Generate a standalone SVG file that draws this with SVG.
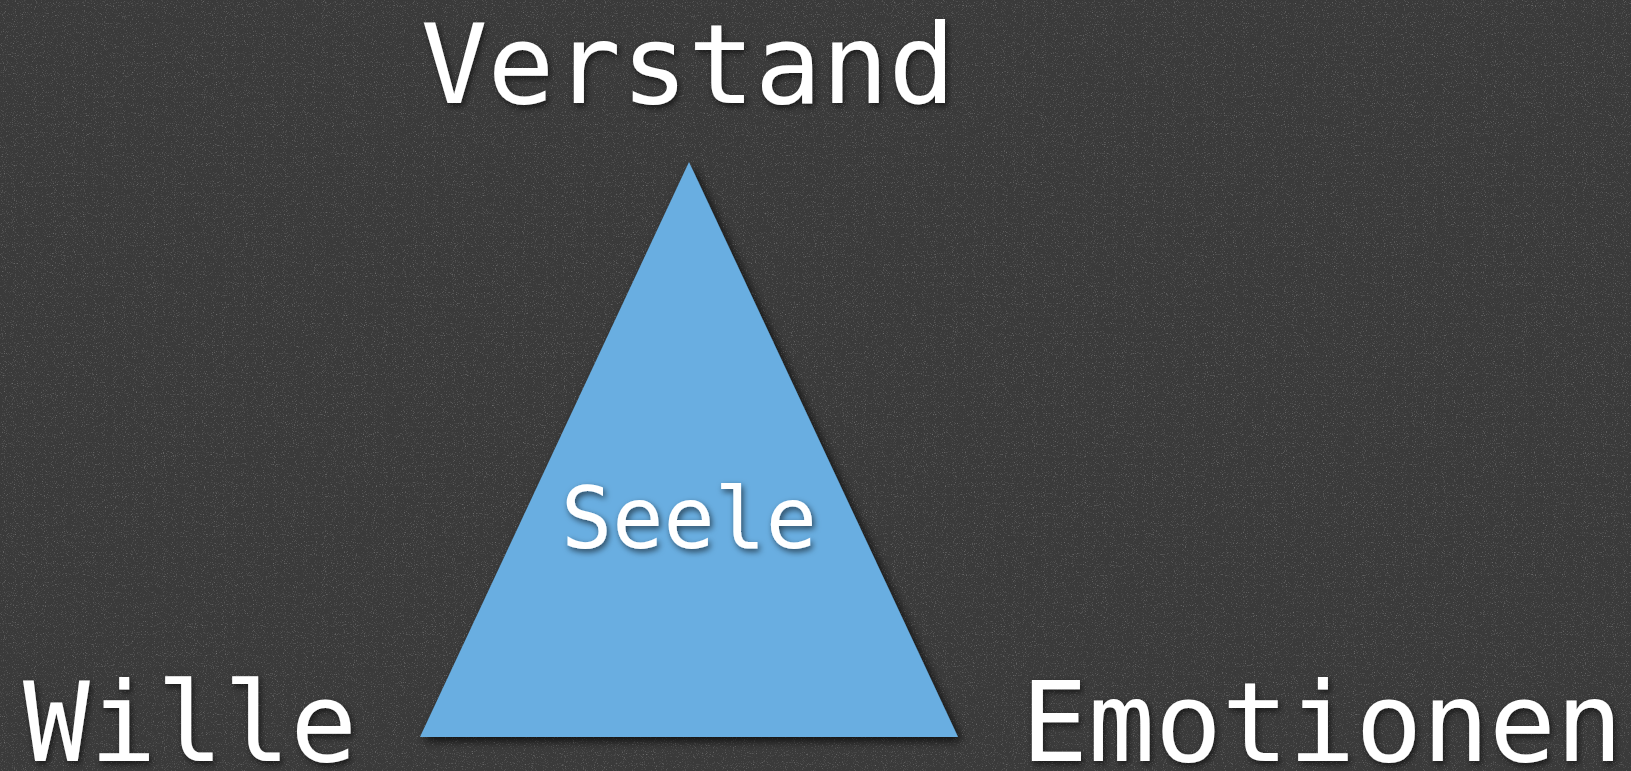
<svg xmlns="http://www.w3.org/2000/svg" width="1631" height="771" viewBox="0 0 1631 771">
<style>
.lbl{font-family:"DejaVu Sans Mono","Liberation Mono",monospace;fill:#ffffff;text-anchor:middle}
.big{font-size:111px}
.mid{font-size:85px}
</style>
<defs>
<filter id="noise" x="0" y="0" width="100%" height="100%">
<feTurbulence type="fractalNoise" baseFrequency="0.9" numOctaves="2" seed="3" result="n"/>
<feColorMatrix in="n" type="matrix" values="0 0 0 0 1  0 0 0 0 1  0 0 0 0 1  0 0 0 2.2 -1.25" result="spk"/>
<feComposite in="spk" in2="SourceGraphic" operator="in"/>
</filter>
<filter id="shadow" x="-20%" y="-20%" width="140%" height="140%">
<feDropShadow dx="4" dy="4" stdDeviation="5" flood-color="#000" flood-opacity="0.75"/>
</filter>
<filter id="tshadow" x="-20%" y="-20%" width="140%" height="140%">
<feDropShadow dx="2" dy="3" stdDeviation="3" flood-color="#000" flood-opacity="0.6"/>
</filter>
</defs>
<rect width="1631" height="771" fill="#3a3a3a"/>
<rect width="1631" height="771" fill="#3a3a3a" filter="url(#noise)" opacity="0.35"/>
<g id="seele">
<polygon points="689,162 420,737 958,737" fill="#69aee1" filter="url(#shadow)"/>
<text class="lbl mid" x="689" y="548" filter="url(#tshadow)">Seele</text>
</g>
<g id="verstand">
<text class="lbl big" x="688" y="103" filter="url(#tshadow)">Verstand</text>
</g>
<g id="wille">
<text class="lbl big" x="190" y="761" filter="url(#tshadow)">Wille</text>
</g>
<g id="emotionen">
<text class="lbl big" x="1322" y="761" filter="url(#tshadow)">Emotionen</text>
</g>
<g id="connectors"/>
</svg>
